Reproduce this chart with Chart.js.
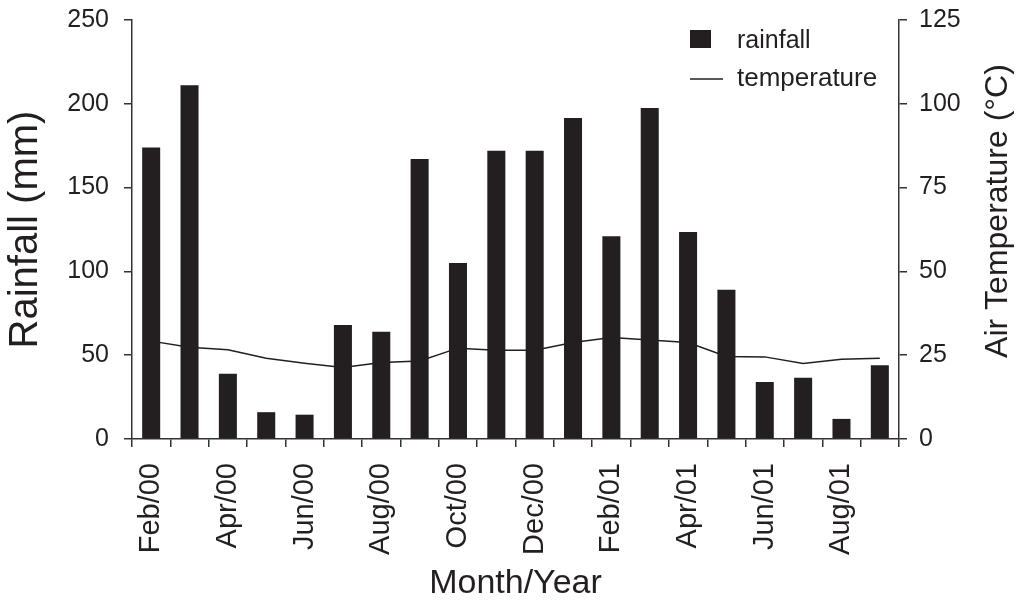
<!DOCTYPE html>
<html>
<head>
<meta charset="utf-8">
<script src="https://cdn.jsdelivr.net/npm/chart.js@4"></script>
<style>
  html, body { margin: 0; padding: 0; background: #ffffff; }
  #wrap { width: 1026px; height: 601px; position: relative; }
</style>
</head>
<body>
<div id="wrap"><canvas id="c" width="1026" height="601"></canvas></div>
<script>
const categories = ["Feb/00","Mar/00","Apr/00","May/00","Jun/00","Jul/00","Aug/00","Sep/00","Oct/00","Nov/00","Dec/00","Jan/01","Feb/01","Mar/01","Apr/01","May/01","Jun/01","Jul/01","Aug/01","Sep/01"];
const rainfall = [174, 211, 39, 16, 14.5, 68, 64, 167, 105, 172, 172, 191.5, 121, 197.5, 123.5, 89, 34, 36.5, 12, 44];
const temperature = [29.2, 27.4, 26.6, 24.1, 22.6, 21.3, 22.8, 23.3, 27.1, 26.5, 26.5, 28.8, 30.3, 29.5, 28.8, 24.6, 24.5, 22.5, 23.8, 24.1];
const rainTicks = [0, 50, 100, 150, 200, 250];
const tempTicks = [0, 25, 50, 75, 100, 125];
const xTitle = "Month/Year";
const yLeftTitle = "Rainfall (mm)";
const yRightTitle = "Air Temperature (°C)";

const FONT = "'Liberation Sans', Arial, Helvetica, sans-serif";
const INK = "#231f20";
const AXIS = "#333333";

const legendPlugin = {
  id: 'customLegend',
  afterDraw(chart) {
    const ctx = chart.ctx;
    const ca = chart.chartArea;
    const ds = chart.data.datasets;
    ctx.save();
    ctx.fillStyle = INK;
    ctx.textBaseline = 'middle';
    ctx.textAlign = 'left';
    const x0 = ca.right - 209;
    ctx.fillRect(x0, 30, 21, 18);
    ctx.font = "25px " + FONT;
    ctx.fillText(ds[0].label, ca.right - 162, 41);
    ctx.strokeStyle = INK;
    ctx.lineWidth = 1.5;
    ctx.beginPath();
    ctx.moveTo(x0, 79);
    ctx.lineTo(x0 + 33, 79);
    ctx.stroke();
    ctx.font = "26px " + FONT;
    ctx.fillText(ds[1].label, ca.right - 162, 79);
    ctx.restore();
  }
};

const rightTitlePlugin = {
  id: 'rightTitle',
  afterDraw(chart) {
    const ctx = chart.ctx;
    ctx.save();
    ctx.translate(998, 211);
    ctx.rotate(-Math.PI / 2);
    ctx.font = "32px " + FONT;
    ctx.fillStyle = INK;
    ctx.textAlign = 'center';
    ctx.textBaseline = 'middle';
    ctx.fillText(yRightTitle, 0, 0);
    ctx.restore();
  }
};

function fitY(width) {
  return function(scale) {
    scale.width = width;
    scale.paddingTop = 0;
    scale.paddingBottom = 0;
  };
}

new Chart(document.getElementById('c'), {
  data: {
    labels: categories,
    datasets: [
      {
        type: 'bar',
        label: 'rainfall',
        data: rainfall,
        yAxisID: 'y',
        backgroundColor: INK,
        borderWidth: 0,
        barPercentage: 0.47,
        categoryPercentage: 1.0,
        order: 1
      },
      {
        type: 'line',
        label: 'temperature',
        data: temperature,
        yAxisID: 'y1',
        borderColor: INK,
        borderWidth: 1.5,
        pointRadius: 0,
        tension: 0,
        fill: false,
        order: 2
      }
    ]
  },
  options: {
    responsive: false,
    animation: false,
    devicePixelRatio: 1,
    layout: { padding: { top: 20, left: 0, right: 0, bottom: 0 } },
    plugins: {
      legend: { display: false },
      tooltip: { enabled: false }
    },
    scales: {
      x: {
        type: 'category',
        offset: true,
        grid: { offset: true, drawOnChartArea: false, tickLength: 8, color: AXIS, lineWidth: 1.5 },
        border: { display: true, color: AXIS, width: 1.5 },
        ticks: {
          autoSkip: false,
          maxRotation: 90,
          minRotation: 90,
          padding: 16,
          color: INK,
          font: { family: FONT, size: 29 },
          callback: function(value, index) { return index % 2 === 0 ? this.getLabelForValue(value) : ''; }
        },
        title: { display: true, text: xTitle, color: INK, font: { family: FONT, size: 34, lineHeight: 1 }, padding: 0 },
        afterFit(scale) { scale.height = 162; scale.paddingLeft = 0; scale.paddingRight = 0; }
      },
      y: {
        position: 'left',
        min: 0,
        max: 250,
        afterBuildTicks(scale) { scale.ticks = rainTicks.map(v => ({ value: v })); },
        grid: { drawOnChartArea: false, tickLength: 8, color: AXIS, lineWidth: 1.5 },
        border: { display: true, color: AXIS, width: 1.5 },
        ticks: { padding: 15, color: INK, font: { family: FONT, size: 25 } },
        title: { display: true, text: yLeftTitle, color: INK, font: { family: FONT, size: 40, lineHeight: 1.2 }, padding: { top: 2, bottom: 0 } },
        afterFit: fitY(132)
      },
      y1: {
        position: 'right',
        min: 0,
        max: 125,
        afterBuildTicks(scale) { scale.ticks = tempTicks.map(v => ({ value: v })); },
        grid: { drawOnChartArea: false, tickLength: 8, color: AXIS, lineWidth: 1.5 },
        border: { display: true, color: AXIS, width: 1.5 },
        ticks: { padding: 12, color: INK, font: { family: FONT, size: 25 } },
        title: { display: false },
        afterFit: fitY(127)
      }
    }
  },
  plugins: [legendPlugin, rightTitlePlugin]
});
</script>
</body>
</html>
